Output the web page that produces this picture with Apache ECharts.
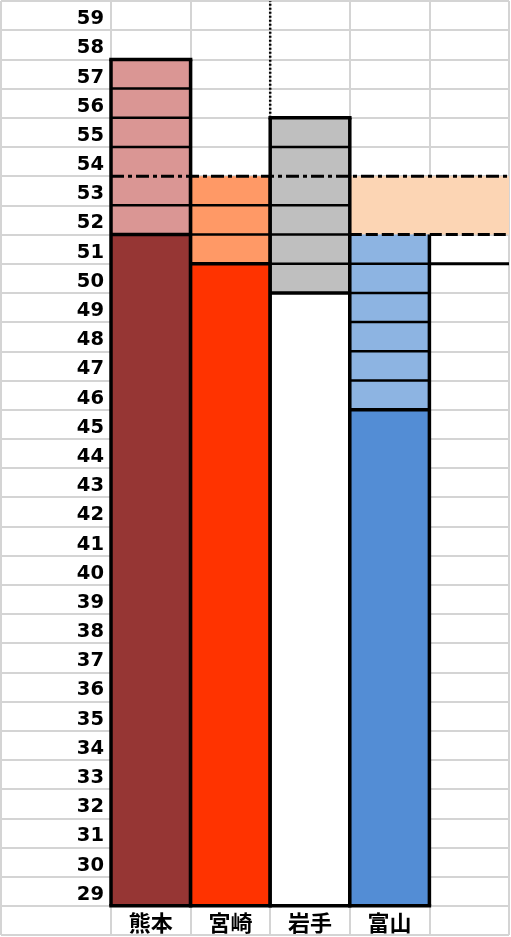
<!DOCTYPE html>
<html><head><meta charset="utf-8">
<script src="https://cdn.jsdelivr.net/npm/echarts@6/dist/echarts.min.js"></script>
<style>html,body{margin:0;padding:0;background:#fff}#c{width:511px;height:937px}</style>
</head><body><div id="c"></div>
<script>
// ---- data ----
const categories = ['熊本', '宮崎', '岩手', '富山', ''];
const baseValues = [51, 50, 49, 45];      // top of the solid (dark) part
const topValues = [57, 53, 55, 51];       // top of the stacked light cells
const yTickLabels = ['', '29', '30', '31', '32', '33', '34', '35', '36', '37', '38', '39', '40', '41', '42', '43', '44', '45', '46', '47', '48', '49', '50', '51', '52', '53', '54', '55', '56', '57', '58', '59'];
const valueMin = 27;
const valueMax = 59;
const barFloor = 28;
const bandRange = [51, 53];
const bandColumns = [3, 4];
const dashDotLevel = 53;
const dashDotColumns = [0, 4];
const dashedLevel = 51;
const dashedColumns = [3, 4];
const solidLevel = 50;
const solidColumns = [4, 4];
const dottedEdgeColumn = 2;
const dottedRange = [55, 59];

// ---- styles ----
const baseColors = ['#963634', '#FF3300', '#FFFFFF', '#538DD5'];
const segColors = ['#DA9694', '#FF9966', '#BFBFBF', '#8DB4E2'];
const gridColor = '#D4D4D4';
const OUTER = 3.5, INNER = 2.5;

function covered(i, v) {
  if (v === dashDotLevel && i >= dashDotColumns[0] && i <= dashDotColumns[1]) return true;
  if (v === dashedLevel && i >= dashedColumns[0] && i <= dashedColumns[1]) return true;
  return false;
}

function renderBar(params, api) {
  const i = api.value(0), base = api.value(1), top = api.value(2);
  const w = api.size([1, 0])[0];
  const xc = api.coord([i, base])[0];
  const x0 = xc - w / 2, x1 = xc + w / 2;
  const Y = v => api.coord([i, v])[1];
  const ch = [];
  const line = (xa, ya, xb, yb, lw) => ch.push({type: 'line', shape: {x1: xa, y1: ya, x2: xb, y2: yb}, style: {stroke: '#000', lineWidth: lw, lineCap: 'butt'}});
  ch.push({type: 'rect', shape: {x: x0, y: Y(base), width: w, height: Y(barFloor) - Y(base)}, style: {fill: baseColors[i]}});
  ch.push({type: 'rect', shape: {x: x0, y: Y(top), width: w, height: Y(base) - Y(top)}, style: {fill: segColors[i]}});
  for (let v = base + 1; v < top; v++) {
    if (!covered(i, v)) line(x0, Y(v), x1, Y(v), INNER);
  }
  if (!covered(i, base)) line(x0, Y(base), x1, Y(base), OUTER);
  if (!covered(i, top)) line(x0 - OUTER / 2, Y(top), x1 + OUTER / 2, Y(top), OUTER);
  line(x0, Y(top), x0, Y(barFloor), OUTER);
  line(x1, Y(top), x1, Y(barFloor), OUTER);
  line(x0 - OUTER / 2, Y(barFloor), x1 + OUTER / 2, Y(barFloor), OUTER);
  return {type: 'group', children: ch};
}

function renderBand(params, api) {
  const w = api.size([1, 0])[0];
  const xa = api.coord([bandColumns[0], bandRange[0]])[0] - w / 2;
  const xb = api.coord([bandColumns[1], bandRange[0]])[0] + w / 2;
  const ya = api.coord([bandColumns[0], bandRange[1]])[1];
  const yb = api.coord([bandColumns[0], bandRange[0]])[1];
  return {type: 'rect', shape: {x: xa, y: ya, width: xb - xa, height: yb - ya}, style: {fill: '#FCD5B4'}};
}

function renderLines(params, api) {
  const w = api.size([1, 0])[0];
  const X = c => api.coord([c, valueMin])[0];
  const Y = v => api.coord([0, v])[1];
  const hl = (cols, lvl, dash) => ({type: 'line', shape: {x1: X(cols[0]) - w / 2, y1: Y(lvl), x2: X(cols[1]) + w / 2, y2: Y(lvl)}, style: {stroke: '#000', lineWidth: 3, lineDash: dash, lineCap: 'butt'}});
  const ch = [
    hl(dashedColumns, dashedLevel, [12, 4]),
    hl(solidColumns, solidLevel, null),
    hl(dashDotColumns, dashDotLevel, [13, 4, 4, 4]),
    {type: 'line', shape: {x1: X(dottedEdgeColumn) - w / 2, y1: Y(dottedRange[0]), x2: X(dottedEdgeColumn) - w / 2, y2: Y(dottedRange[1])}, style: {stroke: '#000', lineWidth: 2.5, lineDash: [2, 2], lineCap: 'butt'}}
  ];
  return {type: 'group', children: ch};
}

const chart = echarts.init(document.getElementById('c'), null, {renderer: 'canvas'});
const split = {show: true, lineStyle: {color: gridColor, width: 2}};
chart.setOption({
  animation: false,
  backgroundColor: '#fff',
  grid: [
    {left: 1, top: 1, width: 110, bottom: 2},
    {left: 111, top: 1, right: 2, bottom: 2}
  ],
  xAxis: [
    {gridIndex: 0, type: 'category', data: [''], boundaryGap: true, axisLine: {show: false}, axisTick: {show: false}, axisLabel: {show: false}, splitLine: split},
    {gridIndex: 1, type: 'category', data: categories, boundaryGap: true, axisLine: {show: false}, axisTick: {show: false}, splitLine: split,
      axisLabel: {inside: true, margin: 1, fontSize: 22, fontWeight: 'bold', color: '#000', fontFamily: '"Noto Sans CJK JP", sans-serif', verticalAlign: 'bottom'}}
  ],
  yAxis: [
    {gridIndex: 0, type: 'category', data: yTickLabels, boundaryGap: true, axisLine: {show: false}, axisTick: {show: false}, axisLabel: {show: false}, splitLine: split},
    {gridIndex: 1, type: 'category', data: yTickLabels, boundaryGap: true, axisLine: {show: false}, axisTick: {show: false}, splitLine: split,
      axisLabel: {margin: 7, fontSize: 19.5, fontWeight: 'bold', color: '#000', fontFamily: '"DejaVu Sans", sans-serif', verticalAlign: 'top', lineHeight: 7, interval: 0}},
    {gridIndex: 1, type: 'value', min: valueMin, max: valueMax, show: false}
  ],
  series: [
    {type: 'custom', xAxisIndex: 1, yAxisIndex: 2, z: 1, renderItem: renderBand, data: [[bandColumns[0], bandRange[0]]]},
    {type: 'custom', xAxisIndex: 1, yAxisIndex: 2, z: 2, renderItem: renderBar,
      data: baseValues.map((b, i) => [i, b, topValues[i]]), encode: {x: 0, y: [1, 2]}},
    {type: 'custom', xAxisIndex: 1, yAxisIndex: 2, z: 3, renderItem: renderLines, data: [[0, valueMin]]}
  ]
});
</script></body></html>
